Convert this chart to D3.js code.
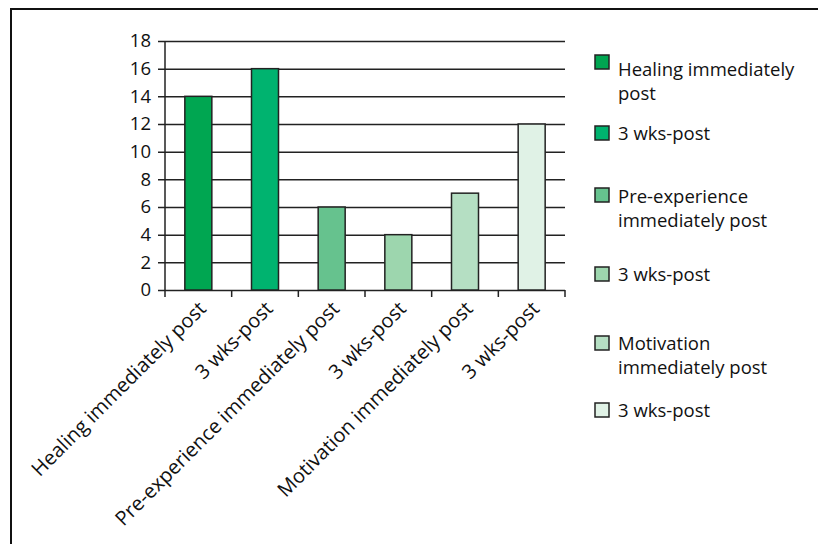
<!DOCTYPE html>
<html>
<head>
<meta charset="utf-8">
<script src="https://cdn.jsdelivr.net/npm/d3@7"></script>
<style>
  html, body { margin: 0; padding: 0; background: #fff; }
  svg text { font-family: "Open Sans", sans-serif; fill: #111; }
</style>
</head>
<body>
<svg id="chart" width="818" height="544"></svg>
<script>
// Categories along the x axis
const categories = [
  "Healing immediately post",
  "3 wks-post",
  "Pre-experience immediately post",
  "3 wks-post ",
  "Motivation immediately post",
  "3 wks-post  "
];
// Values for each bar
const values = [14, 16, 6, 4, 7, 12];
// Fill colours, one per bar
const colors = ["#00a651", "#00b36f", "#66c28e", "#9dd6ae", "#b5dfc3", "#e0f2e6"];
// Legend entries (wrapped lines)
const legendLabels = [
  ["Healing immediately", "post"],
  ["3 wks-post"],
  ["Pre-experience", "immediately post"],
  ["3 wks-post"],
  ["Motivation", "immediately post"],
  ["3 wks-post"]
];
const yTicks = [0, 2, 4, 6, 8, 10, 12, 14, 16, 18];

const svg = d3.select("#chart");

// Outer frame
svg.append("path")
  .attr("d", "M11,544 L11,9 L818,9")
  .attr("fill", "none")
  .attr("stroke", "#111")
  .attr("stroke-width", 2);

const plot = { left: 165, right: 565, top: 41, bottom: 290 };

const x = d3.scaleBand()
  .domain(categories)
  .range([plot.left, plot.right])
  .paddingInner(0.595)
  .paddingOuter(0.2975);

const xStep = (plot.right - plot.left) / categories.length;

const y = d3.scaleLinear()
  .domain([0, 18])
  .range([plot.bottom, plot.top]);

// Horizontal gridlines with left tick marks
const yAxis = d3.axisLeft(y)
  .tickValues(yTicks)
  .tickSize(-(plot.right - plot.left))
  .tickSizeOuter(0)
  .tickPadding(14);

const gy = svg.append("g")
  .attr("transform", `translate(${plot.left},0)`)
  .call(yAxis);
gy.select(".domain").remove();
gy.selectAll(".tick line")
  .attr("x1", -7)
  .attr("stroke", "#222")
  .attr("stroke-width", 1.5);
gy.selectAll(".tick text")
  .attr("font-size", 18.5)
  .attr("fill", "#111");

// Vertical axis line
svg.append("line")
  .attr("x1", plot.left).attr("x2", plot.left)
  .attr("y1", plot.top).attr("y2", plot.bottom)
  .attr("stroke", "#222").attr("stroke-width", 1.5);

// Bars
svg.append("g")
  .selectAll("rect")
  .data(values)
  .join("rect")
  .attr("x", (d, i) => x(categories[i]))
  .attr("y", d => y(d))
  .attr("width", x.bandwidth())
  .attr("height", d => y(0) - y(d))
  .attr("fill", (d, i) => colors[i])
  .attr("stroke", "#222")
  .attr("stroke-width", 1.5);

// Category boundary ticks below the baseline
const boundaries = d3.range(categories.length + 1).map(i => plot.left + i * xStep);
svg.append("g")
  .selectAll("line")
  .data(boundaries)
  .join("line")
  .attr("x1", d => d).attr("x2", d => d)
  .attr("y1", plot.bottom).attr("y2", plot.bottom + 7)
  .attr("stroke", "#222").attr("stroke-width", 1.5);

// Rotated category labels
svg.append("g")
  .selectAll("text")
  .data(categories)
  .join("text")
  .attr("transform", d => `translate(${x(d) + x.bandwidth() / 2 + 4},${plot.bottom + 15}) rotate(-45)`)
  .attr("text-anchor", "end")
  .attr("dy", "0.35em")
  .attr("font-size", 20)
  .text(d => d.trim());

// Legend: swatch plus one text element per wrapped line
const legendTops = [55, 126, 188, 267, 336, 403];
const legendBaselines = [76, 140, 203, 281, 350, 417];
const legend = svg.append("g");
legendLabels.forEach((lines, i) => {
  legend.append("rect")
    .attr("x", 595).attr("y", legendTops[i])
    .attr("width", 14).attr("height", 14)
    .attr("fill", colors[i])
    .attr("stroke", "#222").attr("stroke-width", 1.5);
  lines.forEach((line, j) => {
    legend.append("text")
      .attr("x", 618)
      .attr("y", legendBaselines[i] + j * 24)
      .attr("font-size", 18.5)
      .text(line);
  });
});
</script>
</body>
</html>
